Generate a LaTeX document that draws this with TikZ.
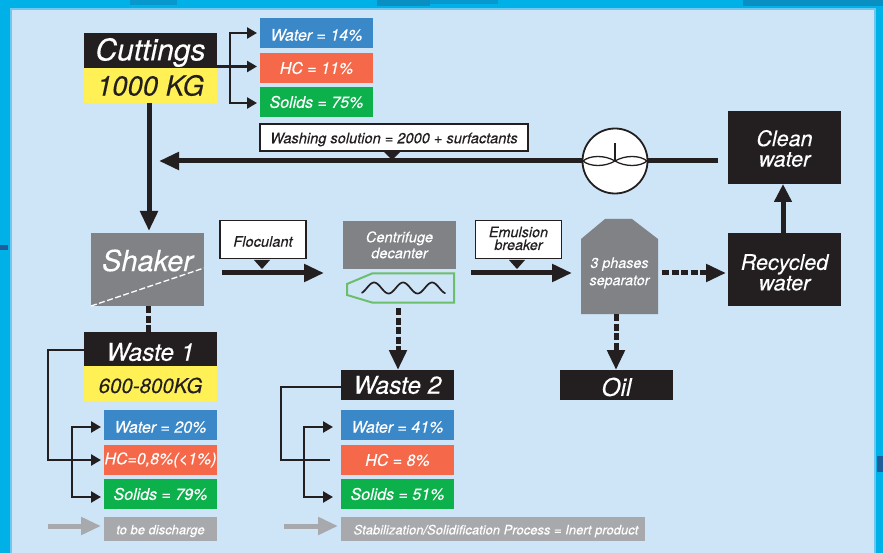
\documentclass[tikz,border=0pt]{standalone}
\usepackage{fontspec}
\setmainfont{TeX Gyre Heros}[ItalicFeatures={FakeBold=0.25}]
\usetikzlibrary{arrows.meta,calc}
\definecolor{cyanbg}{HTML}{00B1E7}
\definecolor{cyandark}{HTML}{0A8FC2}
\definecolor{panelc}{HTML}{CEE4F7}
\definecolor{paneledge}{HTML}{6FC6EF}
\definecolor{tickc}{HTML}{1F5C99}
\definecolor{inkc}{HTML}{231F20}
\definecolor{yellowc}{HTML}{FFF155}
\definecolor{bluec}{HTML}{3B88C9}
\definecolor{redc}{HTML}{F5694A}
\definecolor{greenc}{HTML}{0DB14B}
\definecolor{greyc}{HTML}{808285}
\definecolor{lgreyc}{HTML}{A7A9AC}
\definecolor{greenl}{HTML}{6BBF6B}
\newcommand{\fs}[1]{\fontsize{#1}{#1}\selectfont}
\newcommand{\dn}[2]{\raisebox{-#1pt}[\height][\depth]{#2}}
\newcommand{\two}[4]{\raisebox{-#1pt}[\height][\depth]{\begin{tabular}{@{}c@{}}#2\\[#4pt]#3\end{tabular}}}
\tikzset{
 x=1pt,y=-1pt,
 box/.style={rectangle,inner sep=0pt,outer sep=0pt,align=center,anchor=north west,font=\itshape},
 inkbox/.style={box,fill=inkc,text=white},
 yellowbox/.style={box,fill=yellowc,text=inkc},
 pctbox/.style={box,text=white,minimum width=113pt,minimum height=30pt,font=\itshape\fs{16}},
 greybox/.style={box,fill=greyc,text=white},
 notebox/.style={box,fill=lgreyc,text=white,minimum height=24pt,font=\itshape\fs{13}},
 callout/.style={box,fill=white,draw=inkc,line width=1.8pt,text=inkc},
 heavy/.style={draw=inkc,line width=5pt},
 thinline/.style={draw=inkc,line width=2.8pt},
 bigtip/.style={-{Triangle[length=20pt,width=17pt]}},
 smalltip/.style={-{Triangle[length=10pt,width=11pt]},shorten >=3pt},
 dashy/.style={dash pattern=on 7pt off 2.5pt},
 greyarrow/.style={draw=lgreyc,line width=5pt,-{Triangle[length=20pt,width=17pt]},shorten >=3pt},
}
\begin{document}
\begin{tikzpicture}
\useasboundingbox (0,0) rectangle (883,553);
% background
\fill[cyanbg] (0,0) rectangle (883,553);
\fill[cyandark,opacity=.7] (130,0) rectangle (177,5);
\fill[cyandark] (377,0) rectangle (430,6);
\fill[cyandark,opacity=.7] (430,0) rectangle (498,4);
\fill[cyandark] (743,0) rectangle (883,6);
\fill[tickc] (0,245) rectangle (8,250);
\fill[tickc] (877,456) rectangle (883,472);
\fill[panelc,draw=paneledge,line width=2pt] (11,9) rectangle (875,560);

% Cuttings group
\node[inkbox,minimum width=133pt,minimum height=35pt,font=\itshape\fs{30}] (cut) at (84,33) {\dn{2}{Cuttings}};
\node[yellowbox,minimum width=133pt,minimum height=35pt,font=\itshape\fs{27.5}] (cutkg) at (84,68) {1000 KG};
\node[pctbox,fill=bluec] (w14) at (260,18) {\dn{2}{Water = 14\%}};
\node[pctbox,fill=redc] (hc11) at (260,53) {HC = 11\%};
\node[pctbox,fill=greenc] (s75) at (260,87) {Solids = 75\%};
\coordinate (busa) at (230,33);
\coordinate (busb) at (230,103);
\coordinate (cutout) at (217,66.5);
\coordinate (hcin) at (260,66.5);
\coordinate (s75in) at (260,103);
\draw[thinline,smalltip] (busb) -- (busa) -- (w14.west);
\draw[thinline,smalltip] (busa) -- (busb) -- (s75in);
\draw[thinline,smalltip] (cutout) -- (hcin);

% Wash line
\node[callout,minimum width=268pt,minimum height=27pt,font=\itshape\fs{14.6}] (wash) at (260,124) {\dn{2}{Washing solution = 2000 + surfactants}};
\node[inkbox,minimum width=113pt,minimum height=73pt,font=\itshape\fs{21.5}] (clean) at (728,111) {\two{4}{Clean}{water}{-1}};
\coordinate (washstart) at (718,161);
\coordinate (washend) at (159,161);
\draw[heavy,bigtip] (washstart) -- (washend);
\fill[inkc] (384,152) -- (400,152) -- (392,160) -- cycle;
\coordinate (imp) at (615,161);
\node[circle,draw=inkc,fill=white,line width=1.8pt,minimum size=65pt,inner sep=0pt] (mixer) at (imp) {};
\draw[inkc,line width=1.3pt] (imp) .. controls (605,155) and (590,155) .. (583,161) .. controls (590,167) and (605,167) .. (imp);
\draw[inkc,line width=1.3pt] (imp) .. controls (625,155) and (640,155) .. (647,161) .. controls (640,167) and (625,167) .. (imp);
\draw[inkc,line width=1.3pt] (imp) -- (615,143);

% Shaker row
\node[greybox,minimum width=113pt,minimum height=73pt,font=\itshape\fs{29}] (shaker) at (91,233) {\raisebox{9pt}[\height][\depth]{Shaker}};
\draw[white,line width=1.3pt,dash pattern=on 6pt off 2.5pt] (shaker.south west) -- (shaker.east |- 0,268);
\coordinate (cutbottom) at (149,103);
\coordinate (shakertop) at (149,231);
\draw[heavy,bigtip] (cutbottom) -- (shakertop);

\node[callout,minimum width=86pt,minimum height=38pt,font=\itshape\fs{14.6}] (floc) at (220,220.5) {\dn{2}{Floculant}};
\fill[inkc] (254,260) -- (270,260) -- (262,269) -- cycle;
\coordinate (flocstart) at (222,273);
\coordinate (flocend) at (324,273);
\draw[heavy,bigtip] (flocstart) -- (flocend);

\node[greybox,minimum width=113pt,minimum height=48pt,font=\itshape\fs{14.6}] (cent) at (343,221) {\two{2}{Centrifuge}{decanter}{1}};
\draw[greenl,line width=2pt] (347,284) -- (372,273.5) -- (454,273.5) -- (454,302.5) -- (372,302.5) -- (347,295) -- cycle;
\draw[inkc,line width=1.7pt,line cap=round,domain=362:445,samples=80,smooth,variable=\t] plot ({\t},{288-5.5*sin((\t-362)*12.41-60)});

\node[callout,minimum width=86pt,minimum height=38pt,font=\itshape\fs{14.4}] (emul) at (475.5,220.5) {\two{1}{Emulsion}{breaker}{-2}};
\fill[inkc] (509,260) -- (525,260) -- (517,269) -- cycle;
\coordinate (emstart) at (471,273);
\coordinate (emend) at (572,273);
\draw[heavy,bigtip] (emstart) -- (emend);

\fill[greyc] (581,239) -- (605,219) -- (632,219) -- (658,239) -- (658,314) -- (581,314) -- cycle;
\node[box,anchor=center,text=white,font=\itshape\fs{14.3}] (sep) at (619.5,272) {\two{1.5}{3 phases}{separator}{3}};

\node[inkbox,minimum width=113pt,minimum height=73pt,font=\itshape\fs{21.5}] (recy) at (728,233) {\two{6}{Recycled}{water}{-1}};
\coordinate (recytop) at (783,234);
\coordinate (cleanbot) at (783,184);
\draw[heavy,-{Triangle[length=18pt,width=17pt]}] (recytop) -- (cleanbot);
\coordinate (sepout) at (662,273);
\coordinate (recyin) at (726,273);
\draw[heavy,dashy,bigtip] (sepout) -- (recyin);

% Waste 1
\node[inkbox,minimum width=133pt,minimum height=34pt,font=\itshape\fs{24.5}] (w1) at (84,332) {\dn{3}{Waste 1}};
\node[yellowbox,minimum width=133pt,minimum height=35pt,font=\itshape\fs{20.5}] (w1kg) at (84,366) {\dn{2}{600-800KG}};
\node[pctbox,fill=bluec] (w20) at (104,410) {\dn{2}{Water = 20\%}};
\node[pctbox,fill=redc,font=\itshape\fs{16}] (hc08) at (104,445) {HC=0,8\%(<1\%)};
\node[pctbox,fill=greenc] (s79) at (104,479) {Solids = 79\%};
\node[notebox,minimum width=113pt] (disc) at (104,517) {\dn{2}{to be discharge}};
\coordinate (shakerout) at (148,306);
\coordinate (w1in) at (148,332);
\draw[heavy,dashy] (shakerout) -- (w1in);
\coordinate (w1left) at (84,350);
\coordinate (w1bus) at (48,350);
\coordinate (w1busb) at (48,460);
\coordinate (w1hc) at (104,460);
\draw[thinline,smalltip] (w1left) -- (w1bus) -- (w1busb) -- (w1hc);
\coordinate (w1a) at (72,427);
\coordinate (w1b) at (72,497);
\coordinate (w20in) at (104,427);
\coordinate (s79in) at (104,497);
\draw[thinline,smalltip] (w1b) -- (w1a) -- (w20in);
\draw[thinline,smalltip] (w1a) -- (w1b) -- (s79in);
\coordinate (ga) at (48,526);
\coordinate (gb) at (104,526);
\draw[greyarrow] (ga) -- (gb);

% Waste 2
\node[inkbox,minimum width=113pt,minimum height=30pt,font=\itshape\fs{24.5}] (w2) at (341,370) {Waste 2};
\node[pctbox,fill=bluec] (w41) at (341,410) {\dn{2}{Water = 41\%}};
\node[pctbox,fill=redc] (hc8) at (341,445) {HC = 8\%};
\node[pctbox,fill=greenc] (s51) at (341,479) {Solids = 51\%};
\node[notebox,minimum width=304pt,font=\itshape\fs{13}] (stab) at (341,517) {\hspace*{6pt}\dn{2}{Stabilization/Solidification Process = Inert product}};
\coordinate (centout) at (398,308);
\coordinate (w2in) at (398,370);
\draw[heavy,dashy,bigtip] (centout) -- (w2in);
\coordinate (w2left) at (341,387);
\coordinate (w2bus) at (281,387);
\coordinate (w2busb) at (281,460);
\coordinate (w2end) at (330,460);
\draw[thinline] (w2left) -- (w2bus) -- (w2busb) -- (w2end);
\coordinate (w2a) at (304,427);
\coordinate (w2b) at (304,497);
\coordinate (w41in) at (341,427);
\coordinate (s51in) at (341,497);
\draw[thinline,-{Triangle[length=10pt,width=11pt]},shorten >=8pt] (w2b) -- (w2a) -- (w41in);
\draw[thinline,-{Triangle[length=10pt,width=11pt]},shorten >=8pt] (w2a) -- (w2b) -- (s51in);
\coordinate (gc) at (284,526);
\coordinate (gd) at (341,526);
\draw[greyarrow] (gc) -- (gd);

% Oil
\node[inkbox,minimum width=113pt,minimum height=30pt,font=\itshape\fs{24.5}] (oil) at (560,370) {\dn{2}{Oil}};
\coordinate (sepbot) at (616,314);
\coordinate (oilin) at (616,370);
\draw[heavy,dashy,bigtip] (sepbot) -- (oilin);
\end{tikzpicture}
\end{document}
